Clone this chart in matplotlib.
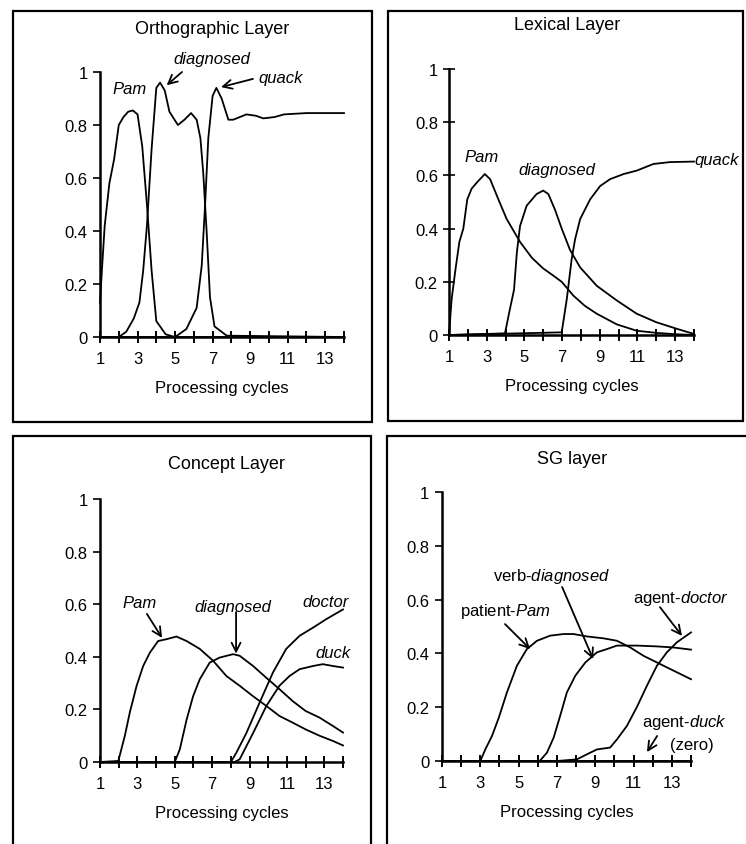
import numpy as np
import matplotlib as mpl
import matplotlib.pyplot as plt
from matplotlib.patches import Rectangle

plt.rcParams['font.family'] = ['Liberation Sans', 'DejaVu Sans']
plt.rcParams['mathtext.fontset'] = 'custom'
plt.rcParams['mathtext.rm'] = 'Liberation Sans'
plt.rcParams['mathtext.it'] = 'Liberation Sans:italic'

# ---- data (processing cycle, activation) ----
# Orthographic layer
orth_pam_x = [1, 1.1, 1.25, 1.5, 1.75, 2.0, 2.25, 2.5, 2.75, 3.0, 3.25, 3.5, 3.75, 4.0, 4.5, 5, 14]
orth_pam_y = [0.13, 0.25, 0.42, 0.58, 0.67, 0.80, 0.83, 0.85, 0.855, 0.84, 0.72, 0.50, 0.25, 0.06, 0.01, 0.0, 0.0]
orth_diag_x = [1, 2.0, 2.4, 2.8, 3.1, 3.3, 3.5, 3.75, 4.0, 4.2, 4.45, 4.7, 5.15, 5.5, 5.85, 6.15, 6.35, 6.5, 6.68, 6.86, 7.1, 7.75, 14]
orth_diag_y = [0.0, 0.0, 0.02, 0.07, 0.13, 0.25, 0.42, 0.71, 0.94, 0.96, 0.93, 0.85, 0.80, 0.82, 0.845, 0.82, 0.75, 0.62, 0.40, 0.15, 0.04, 0.005, 0.0]
orth_quack_x = [1, 5.0, 5.6, 6.15, 6.42, 6.6, 6.77, 7.0, 7.2, 7.48, 7.84, 8.1, 8.8, 9.3, 9.7, 10.3, 10.8, 12, 14]
orth_quack_y = [0.0, 0.0, 0.03, 0.11, 0.27, 0.50, 0.75, 0.91, 0.94, 0.90, 0.82, 0.82, 0.84, 0.835, 0.825, 0.83, 0.84, 0.845, 0.845]

# Lexical layer
lex_pam_x = [1, 1.14, 1.35, 1.55, 1.76, 1.97, 2.2, 2.5, 2.9, 3.18, 3.62, 4.06, 4.77, 5.4, 6.0, 6.5, 6.98, 7.6, 8.2, 8.84, 9.9, 10.96, 12.0, 13.0, 14]
lex_pam_y = [0.0, 0.135, 0.25, 0.35, 0.40, 0.51, 0.55, 0.575, 0.605, 0.586, 0.51, 0.436, 0.35, 0.29, 0.25, 0.225, 0.20, 0.148, 0.11, 0.08, 0.04, 0.016, 0.008, 0.003, 0.0]
lex_diag_x = [1, 3.97, 4.24, 4.45, 4.6, 4.77, 5.12, 5.65, 6.0, 6.27, 6.63, 6.98, 7.42, 7.96, 8.84, 9.9, 10.96, 12.0, 13.1, 14]
lex_diag_y = [0.0, 0.006, 0.10, 0.17, 0.31, 0.41, 0.486, 0.53, 0.543, 0.53, 0.47, 0.40, 0.32, 0.254, 0.185, 0.13, 0.08, 0.048, 0.023, 0.004]
lex_quack_x = [1, 6.98, 7.25, 7.51, 7.69, 7.96, 8.49, 9.02, 9.55, 10.26, 10.96, 11.85, 12.73, 14]
lex_quack_y = [0.0, 0.01, 0.135, 0.286, 0.36, 0.436, 0.51, 0.56, 0.586, 0.605, 0.618, 0.643, 0.65, 0.652]

# Concept layer
con_pam_x = [1, 1.98, 2.33, 2.6, 2.96, 3.31, 3.67, 4.11, 4.56, 5.09, 5.63, 6.34, 7.05, 7.76, 8.47, 9.19, 9.9, 10.6, 11.3, 12.0, 12.74, 13.46, 14]
con_pam_y = [0.0, 0.004, 0.10, 0.19, 0.29, 0.365, 0.416, 0.46, 0.467, 0.477, 0.46, 0.43, 0.385, 0.327, 0.29, 0.25, 0.213, 0.175, 0.15, 0.124, 0.10, 0.08, 0.063]
con_diag_x = [1, 5.0, 5.27, 5.63, 5.98, 6.34, 6.87, 7.4, 8.12, 8.47, 9.19, 9.9, 10.6, 11.3, 12.0, 12.74, 13.46, 14]
con_diag_y = [0.0, 0.0, 0.048, 0.16, 0.25, 0.315, 0.378, 0.397, 0.41, 0.404, 0.365, 0.32, 0.277, 0.232, 0.194, 0.169, 0.137, 0.112]
con_doc_x = [1, 8.0, 8.3, 8.83, 9.54, 10.25, 10.96, 11.68, 12.4, 13.1, 14]
con_doc_y = [0.0, 0.0, 0.036, 0.11, 0.226, 0.34, 0.43, 0.48, 0.511, 0.543, 0.58]
con_duck_x = [1, 8.2, 8.47, 9.19, 9.9, 10.6, 11.14, 11.68, 12.4, 12.92, 13.46, 14]
con_duck_y = [0.0, 0.0, 0.01, 0.11, 0.213, 0.29, 0.327, 0.353, 0.365, 0.372, 0.365, 0.359]

# SG layer
sg_pam_x = [1, 3.0, 3.26, 3.61, 3.96, 4.39, 4.91, 5.43, 5.96, 6.65, 7.35, 7.87, 8.57, 9.43, 10.13, 10.83, 11.52, 12.57, 14]
sg_pam_y = [0.0, 0.0, 0.043, 0.093, 0.16, 0.255, 0.354, 0.416, 0.447, 0.466, 0.472, 0.472, 0.463, 0.456, 0.447, 0.422, 0.391, 0.354, 0.304]
sg_diag_x = [1, 6.1, 6.48, 6.83, 7.17, 7.52, 7.96, 8.48, 9.09, 9.61, 10.13, 10.48, 11.17, 12.22, 13.09, 14]
sg_diag_y = [0.0, 0.0, 0.031, 0.087, 0.168, 0.255, 0.317, 0.366, 0.404, 0.416, 0.429, 0.429, 0.429, 0.426, 0.422, 0.414]
sg_doc_x = [1, 7.0, 8.04, 8.57, 9.09, 9.78, 10.13, 10.65, 11.17, 11.7, 12.22, 12.74, 13.26, 14]
sg_doc_y = [0.0, 0.0, 0.006, 0.025, 0.043, 0.05, 0.08, 0.13, 0.20, 0.28, 0.354, 0.404, 0.441, 0.478]
sg_duck_x = [1, 14]
sg_duck_y = [0.0, 0.0]

x_ticks = list(range(1, 15))
y_ticks = [0, 0.2, 0.4, 0.6, 0.8, 1]
y_labels = ['0', '0.2', '0.4', '0.6', '0.8', '1']

W, H = 746, 845
fig = plt.figure(figsize=(W / 100, H / 100), dpi=100)


def box(x0, y0, x1, y1):
    # panel frame, given in pixel coords from the top-left corner
    r = Rectangle((x0 / W, 1 - y1 / H), (x1 - x0) / W, (y1 - y0) / H,
                  transform=fig.transFigure, fill=False, lw=1.6, ec='k')
    fig.patches.append(r)


def panel(x0, x1, ytop, ybot, title, title_xy, ydir='out'):
    ax = fig.add_axes([x0 / W, 1 - ybot / H, (x1 - x0) / W, (ybot - ytop) / H])
    ax.set_xlim(1, 14)
    ax.set_ylim(0, 1)
    for s in ['top', 'right']:
        ax.spines[s].set_visible(False)
    for s in ['left', 'bottom']:
        ax.spines[s].set_linewidth(1.8)
    ax.set_xticks(x_ticks)
    ax.set_xticklabels([str(t) if t % 2 == 1 else '' for t in x_ticks])
    ax.set_yticks(y_ticks)
    ax.set_yticklabels(y_labels)
    ax.tick_params(axis='x', direction='inout', length=8, width=1.4, labelsize=12, pad=6)
    ax.tick_params(axis='y', direction=ydir, length=5 if ydir == 'out' else 8, width=1.2, labelsize=12, pad=4)
    ax.set_xlabel('Processing cycles', fontsize=12, labelpad=10)
    fig.text(title_xy[0] / W, 1 - title_xy[1] / H, title, fontsize=13, ha='center', va='center')
    return ax


def curve(ax, x, y):
    ax.plot(x, y, color='k', lw=1.3, clip_on=False, solid_joinstyle='round')


def label(ax, s, xy, ha='center'):
    ax.text(xy[0], xy[1], s, fontsize=12, style='italic', ha=ha, va='center', clip_on=False)


def arrow(ax, start, end):
    ax.annotate('', xy=end, xytext=start, annotation_clip=False,
                arrowprops=dict(arrowstyle='->', lw=1.3, color='k', mutation_scale=16,
                                shrinkA=0, shrinkB=0))


# frames
box(13, 12, 372, 423)
box(388, 12, 743, 422)
box(13, 437, 371, 860)
box(387, 437, 760, 860)

# Orthographic
ax1 = panel(100, 344, 73, 338, 'Orthographic Layer', (212, 29))
curve(ax1, orth_pam_x, orth_pam_y)
curve(ax1, orth_diag_x, orth_diag_y)
curve(ax1, orth_quack_x, orth_quack_y)
label(ax1, 'Pam', (2.6, 0.936))
label(ax1, 'diagnosed', (6.97, 1.05))
arrow(ax1, (5.37, 1.0), (4.55, 0.95))
label(ax1, 'quack', (9.42, 0.98), ha='left')
arrow(ax1, (9.15, 0.974), (7.45, 0.943))

# Lexical
ax2 = panel(449, 694, 70, 336, 'Lexical Layer', (567, 25), ydir='inout')
curve(ax2, lex_pam_x, lex_pam_y)
curve(ax2, lex_diag_x, lex_diag_y)
curve(ax2, lex_quack_x, lex_quack_y)
label(ax2, 'Pam', (2.75, 0.67))
label(ax2, 'diagnosed', (6.73, 0.624))
label(ax2, 'quack', (14.02, 0.66), ha='left')

# Concept
ax3 = panel(100, 343, 500, 763, 'Concept Layer', (226, 465))
curve(ax3, con_pam_x, con_pam_y)
curve(ax3, con_diag_x, con_diag_y)
curve(ax3, con_doc_x, con_doc_y)
curve(ax3, con_duck_x, con_duck_y)
label(ax3, 'Pam', (3.14, 0.608))
arrow(ax3, (3.51, 0.563), (4.32, 0.472))
label(ax3, 'diagnosed', (8.12, 0.593))
arrow(ax3, (8.28, 0.57), (8.28, 0.412))
label(ax3, 'doctor', (13.09, 0.612))
label(ax3, 'duck', (13.47, 0.418))

# SG
ax4 = panel(442, 691, 493, 762, 'SG layer', (572, 460))
curve(ax4, sg_pam_x, sg_pam_y)
curve(ax4, sg_diag_x, sg_diag_y)
curve(ax4, sg_doc_x, sg_doc_y)
curve(ax4, sg_duck_x, sg_duck_y)
kw = dict(fontsize=12, ha='center', va='center', clip_on=False)
ax4.text(6.74, 0.688, r'verb-$\mathit{diagnosed}$', **kw)
arrow(ax4, (7.27, 0.647), (8.89, 0.379))
ax4.text(4.29, 0.558, r'patient-$\mathit{Pam}$', **kw)
arrow(ax4, (4.29, 0.509), (5.6, 0.416))
ax4.text(13.48, 0.606, r'agent-$\mathit{doctor}$', **kw)
arrow(ax4, (12.38, 0.572), (13.53, 0.465))
ax4.text(13.64, 0.145, r'agent-$\mathit{duck}$', **kw)
ax4.text(14.05, 0.063, '(zero)', **kw)
arrow(ax4, (12.23, 0.093), (11.7, 0.033))

fig.savefig('out.png', dpi=100)
